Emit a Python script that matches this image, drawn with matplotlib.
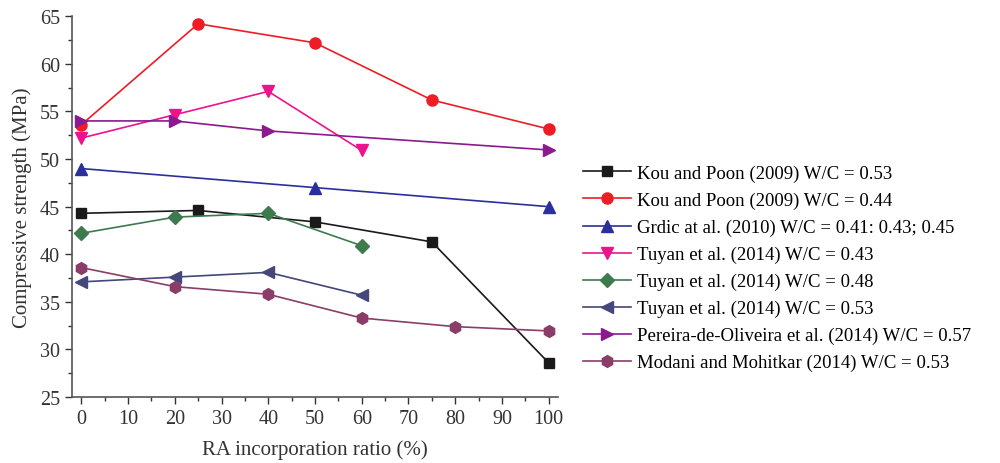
import matplotlib.pyplot as plt
from matplotlib.ticker import MultipleLocator

plt.rcParams['font.family'] = ['Liberation Serif', 'DejaVu Serif']

# values
kou53_x = [0, 25, 50, 75, 100]
kou53_y = [44.3, 44.6, 43.4, 41.3, 28.6]
kou44_x = [0, 25, 50, 75, 100]
kou44_y = [53.6, 64.2, 62.2, 56.2, 53.15]
grdic_x = [0, 50, 100]
grdic_y = [49.0, 47.0, 45.0]
tuyan43_x = [0, 20, 40, 60]
tuyan43_y = [52.2, 54.65, 57.1, 50.9]
tuyan48_x = [0, 20, 40, 60]
tuyan48_y = [42.2, 43.9, 44.3, 40.9]
tuyan53_x = [0, 20, 40, 60]
tuyan53_y = [37.1, 37.6, 38.1, 35.7]
pereira_x = [0, 20, 40, 100]
pereira_y = [54.0, 54.0, 52.95, 50.95]
modani_x = [0, 20, 40, 60, 80, 100]
modani_y = [38.6, 36.6, 35.8, 33.3, 32.4, 31.95]

series = [
    (kou53_x, kou53_y, 's', '#1a1a1a', 'Kou and Poon (2009) W/C = 0.53'),
    (kou44_x, kou44_y, 'o', '#ee1c25', 'Kou and Poon (2009) W/C = 0.44'),
    (grdic_x, grdic_y, '^', '#2b2f9c', 'Grdic at al. (2010) W/C = 0.41: 0.43; 0.45'),
    (tuyan43_x, tuyan43_y, 'v', '#ec138c', 'Tuyan et al. (2014) W/C = 0.43'),
    (tuyan48_x, tuyan48_y, 'D', '#3d7a4e', 'Tuyan et al. (2014) W/C = 0.48'),
    (tuyan53_x, tuyan53_y, '<', '#45467a', 'Tuyan et al. (2014) W/C = 0.53'),
    (pereira_x, pereira_y, '>', '#8a1a8e', 'Pereira-de-Oliveira et al. (2014) W/C = 0.57'),
    (modani_x, modani_y, 'h', '#8a3d66', 'Modani and Mohitkar (2014) W/C = 0.53'),
]

fig = plt.figure(figsize=(10, 4.64), dpi=100)
ax = fig.add_axes([0.072, 0.142, 0.486, 0.821])

for x, y, m, c, lab in series:
    ms = {'D': 7.5, 's': 7.5, 'h': 8.5}.get(m, 8)
    ax.plot(x, y, marker=m, color=c, markersize=ms, linewidth=1.2, label=lab)

ax.set_xlim(-2, 102)
ax.set_ylim(25, 65)
ax.xaxis.set_major_locator(MultipleLocator(10))
ax.xaxis.set_minor_locator(MultipleLocator(5))
ax.yaxis.set_major_locator(MultipleLocator(5))
ax.yaxis.set_minor_locator(MultipleLocator(2.5))
ax.tick_params(which='major', direction='out', length=5, width=1, labelsize=14.5, colors='#333333')
ax.tick_params(which='minor', direction='out', length=3, width=1, colors='#333333')
for s in ['top', 'right']:
    ax.spines[s].set_visible(False)
for s in ['left', 'bottom']:
    ax.spines[s].set_color('#555555')
    ax.spines[s].set_linewidth(1.2)

ax.set_xlabel('RA incorporation ratio (%)', fontsize=15, color='#333333', labelpad=8)
ax.set_ylabel('Compressive strength (MPa)', fontsize=15, color='#333333', labelpad=6)

fig.legend(loc='center left', bbox_to_anchor=(0.575, 0.42), frameon=False,
           fontsize=13.5, handlelength=2.6, labelspacing=0.52, handletextpad=0.3,
           borderaxespad=0)

fig.savefig('out.png', dpi=100)
